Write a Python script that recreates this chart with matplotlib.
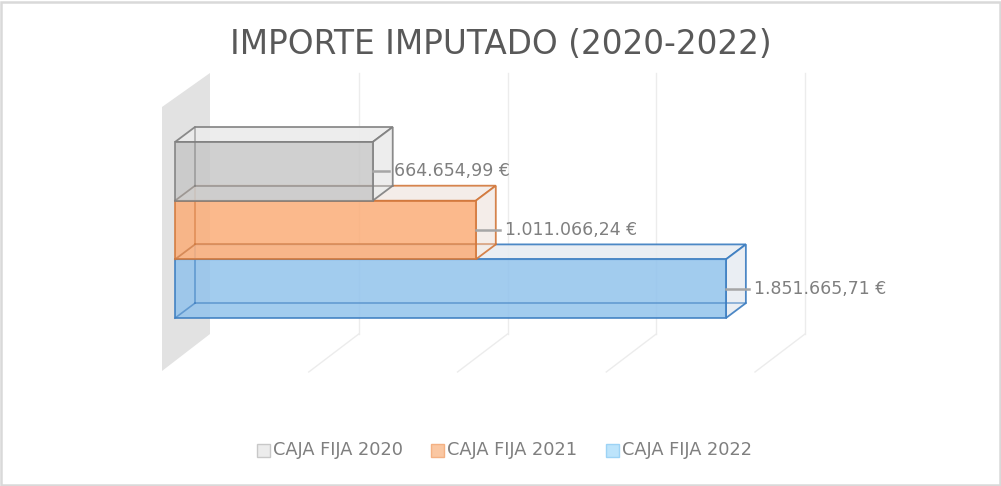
import numpy as np
import matplotlib
matplotlib.use('Agg')
import matplotlib.pyplot as plt
from matplotlib.patches import Polygon, Rectangle

# data
series = ["CAJA FIJA 2020", "CAJA FIJA 2021", "CAJA FIJA 2022"]
values = [664654.99, 1011066.24, 1851665.71]
labels = ["664.654,99 €", "1.011.066,24 €", "1.851.665,71 €"]
grid_ticks = [500000, 1000000, 1500000, 2000000]

face_colors = ["#c8c8c8", "#fbad78", "#92c3ec"]
side_colors = ["#ececec", "#f3ece7", "#e8edf2"]
edge_colors = ["#7f7f7f", "#d2773a", "#3a7cc0"]
legend_face = ["#ececec", "#fac7a2", "#bde4fb"]
legend_edge = ["#c8c8c8", "#f4b183", "#9dd3f5"]

W, H = 1001, 486
PX_PER_UNIT = 2.975e-4          # pixels per euro on the value axis
X0 = 175                        # pixel of value 0 (front of bars)
Y_TOP = 142                     # pixel top of first bar
BAR_PX = 58.7                   # bar height in pixels
FONT = "DejaVu Sans"

fig = plt.figure(figsize=(W / 100, H / 100), dpi=100)
ax = fig.add_axes([0, 0, 1, 1])
ax.set_xlim(-X0 / PX_PER_UNIT, (W - X0) / PX_PER_UNIT)
ax.set_ylim((H - Y_TOP) / BAR_PX, -Y_TOP / BAR_PX)
ax.axis('off')

ux = 1 / PX_PER_UNIT   # data units per pixel in x
uy = 1 / BAR_PX        # data units per pixel in y


def px(x, y):
    # pixel position -> data coords (only used for decoration: wall, grid)
    return ((x - X0) * ux, (y - Y_TOP) * uy)


# outer frame
fig.patches.append(Rectangle((1, 1), W - 2.5, H - 2.5, transform=None, fill=False,
                             edgecolor="#d9d9d9", linewidth=1.8))

# side wall
wall = [px(162, 107), px(210, 73), px(210, 334), px(162, 371)]
ax.add_patch(Polygon(wall, closed=True, facecolor="#e2e2e2", edgecolor="none", zorder=1))

# gridlines on back wall + floor
for t in grid_ticks:
    xb = 210 + t * PX_PER_UNIT
    ax.plot(*zip(px(xb, 73), px(xb, 334)), color="#ececec", lw=1.0, zorder=0.5)
    ax.plot(*zip(px(xb, 334), px(xb - 50, 372)), color="#ececec", lw=1.0, zorder=0.5)

# 3d bars, upper bars sit in front of the lower ones' top faces
dx, dy = 20 * ux, -15 * uy
lead = [16, 24, 23]
for i, v in enumerate(values):
    y0, y1 = i, i + 1
    z = 6 - 1.5 * i
    ec = edge_colors[i]
    # top and right faces
    top = [(0, y0), (v, y0), (v + dx, y0 + dy), (dx, y0 + dy)]
    ax.add_patch(Polygon(top, closed=True, facecolor=side_colors[i], edgecolor=ec,
                         linewidth=1.3, alpha=0.9, zorder=z + 0.1))
    right = [(v, y0), (v + dx, y0 + dy), (v + dx, y1 + dy), (v, y1)]
    ax.add_patch(Polygon(right, closed=True, facecolor=side_colors[i], edgecolor=ec,
                         linewidth=1.3, alpha=0.9, zorder=z + 0.1))
    # front face
    ax.barh(i + 0.5, v, height=1, left=0, color=face_colors[i], alpha=0.85,
            edgecolor=ec, linewidth=1.3, zorder=z + 0.2)
    # hidden back edges, seen through the front face
    ax.plot([dx, v + dx], [y1 + dy, y1 + dy], color=ec, lw=1.2, alpha=0.6, zorder=z + 0.3)
    ax.plot([dx, dx], [y0 + dy, y1 + dy], color=ec, lw=1.2, alpha=0.6, zorder=z + 0.3)
    ax.plot([0, dx], [y1, y1 + dy], color=ec, lw=1.2, alpha=0.6, zorder=z + 0.3)
    # value label with leader
    ym = i + 0.5
    ax.plot([v, v + lead[i] * ux], [ym, ym], color="#a6a6a6", lw=1.8, zorder=10)
    ax.text(v + (lead[i] + 5) * ux, ym, labels[i], fontsize=12.5, color="#7f7f7f",
            family=FONT, va="center", ha="left", zorder=10)

# title
fig.text(0.5, 1 - 45 / H, "IMPORTE IMPUTADO (2020-2022)", ha="center", va="center",
         fontsize=23.6, color="#595959", family=FONT)

# legend
leg_x = [257, 431, 606]
for i, name in enumerate(series):
    fig.patches.append(Rectangle((leg_x[i], H - 457), 13, 13, transform=None,
                                 facecolor=legend_face[i], edgecolor=legend_edge[i], lw=1))
    fig.text((leg_x[i] + 16) / W, 1 - 450 / H, name, ha="left", va="center",
             fontsize=12.8, color="#7f7f7f", family=FONT)

fig.savefig("out.png", dpi=100)
